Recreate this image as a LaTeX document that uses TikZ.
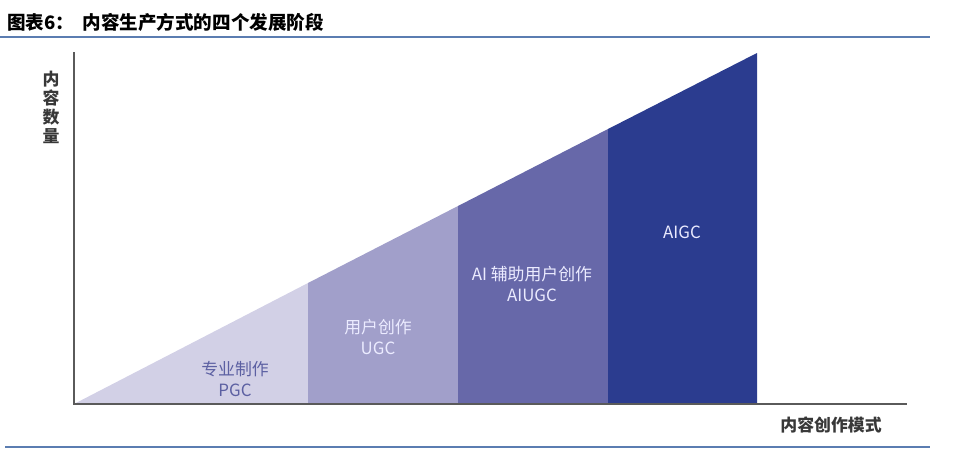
\documentclass[tikz,border=0pt]{standalone}
\usepackage{fontspec}
\setmainfont{Noto Sans CJK SC}
\usetikzlibrary{positioning}
\definecolor{rulecol}{HTML}{5B7DB1}
\definecolor{axiscol}{HTML}{5A5A5A}
\definecolor{pgccol}{HTML}{D2D0E6}
\definecolor{ugccol}{HTML}{A19FCA}
\definecolor{aiugccol}{HTML}{6768A9}
\definecolor{aigccol}{HTML}{2B3C8F}
\definecolor{pgctext}{HTML}{5C60A2}
\tikzset{
  band/.style = {draw=none},
  bandlabel/.style = {align=center, font=\fontsize{12}{15}\selectfont, inner sep=0pt},
  axislabel/.style = {font=\fontsize{12}{13.5}\selectfont\bfseries, text=black!78, inner sep=0pt}
}
\begin{document}
\begin{tikzpicture} [x = 0.025cm, y = -0.025cm]
	\useasboundingbox (0,0) rectangle (956,454);
	% title and rules
	\node [anchor=west, inner sep=0pt, font=\fontsize{13.2}{15}\selectfont\bfseries] (title) at (7,22) {图表6：\hspace{0.45em}内容生产方式的四个发展阶段};
	\draw [rulecol, line width=0.9pt] (0,37) -- (919,37);
	\draw [rulecol, line width=1.8pt] (919,37) -- (930,37);
	\draw [rulecol, line width=1.8pt] (5,447) -- (930,447);
	% bands under the slope
	\coordinate (o) at (74,404);
	\fill [pgccol] (o) -- (308,283) -- (308,404) -- cycle;
	\fill [ugccol] (308,404) -- (308,283) -- (458,206) -- (458,404) -- cycle;
	\fill [aiugccol] (458,404) -- (458,206) -- (608,129) -- (608,404) -- cycle;
	\fill [aigccol] (608,404) -- (608,129) -- (757,53) -- (757,404) -- cycle;
	% axes
	\coordinate (ytop) at (74,52);
	\coordinate (xend) at (907,404);
	\draw [axiscol, line width=0.9pt] (ytop) -- (o) -- (xend);
	\node [axislabel, align=center] (ylab) at (51,107) {内\\容\\数\\量};
	\node [axislabel] (xlab) at (831,425) {内容创作模式};
	% stage labels
	\node [bandlabel, text=pgctext] (pgc) at (235,379) {专业制作\\PGC};
	\node [bandlabel, text=white!92!blue] (ugc) at (378,337) {用户创作\\UGC};
	\node [bandlabel, text=white!92!blue] (aiugc) at (532,284) {AI 辅助用户创作\\AIUGC};
	\node [bandlabel, text=white!92!blue] (aigc) at (682,232) {AIGC};
\end{tikzpicture}
\end{document}
